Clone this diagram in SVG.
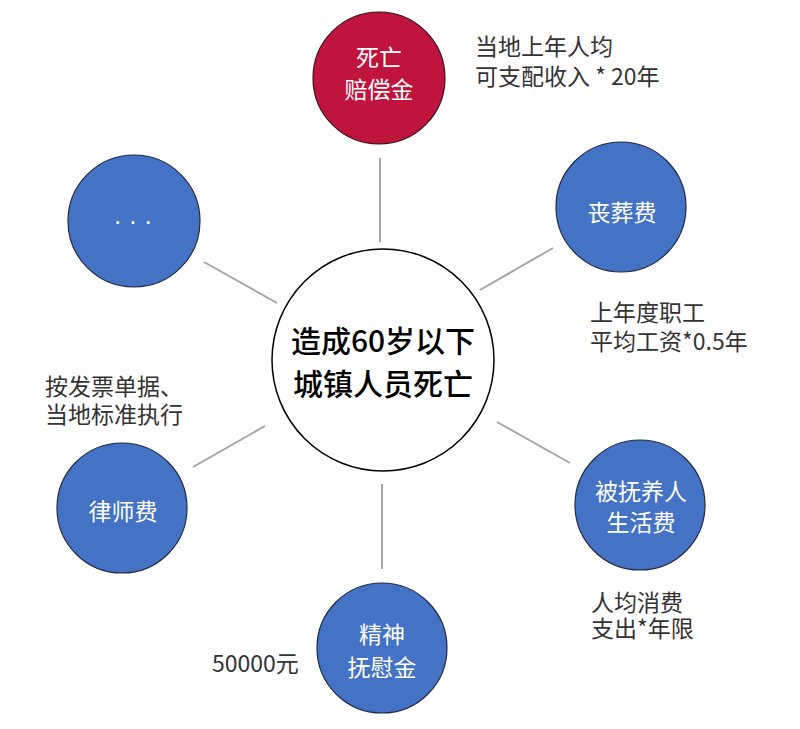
<svg xmlns="http://www.w3.org/2000/svg" width="800" height="729" viewBox="0 0 800 729">
<style>
.conn line{stroke:#a6a6a6;stroke-width:2}
.blue{fill:#4472C4;stroke:#1f2a44;stroke-width:1.2}
.red{fill:#C0143C;stroke:#3a1020;stroke-width:1.2}
.center{fill:#fff;stroke:#000;stroke-width:1.5}
.nt{font-family:"Noto Sans CJK SC","Noto Sans",sans-serif;font-size:23px;fill:#fff;text-anchor:middle}
.ct{font-family:"Noto Sans CJK SC","Noto Sans",sans-serif;font-size:30px;font-weight:500;fill:#000;text-anchor:middle}
.note{font-family:"Noto Sans CJK SC","Noto Sans",sans-serif;font-size:23px;fill:#333}
</style>
<rect width="800" height="729" fill="#fff"/>
<g id="connectors" class="conn">
<line x1="380" y1="158" x2="380" y2="242"/>
<line x1="480" y1="290" x2="553" y2="248"/>
<line x1="497" y1="422" x2="570" y2="463"/>
<line x1="382" y1="484" x2="382" y2="569"/>
<line x1="265" y1="426" x2="193" y2="467"/>
<line x1="204" y1="262" x2="277" y2="303"/>
</g>
<g id="center">
<circle class="center" cx="383" cy="360" r="111"/>
<text class="ct" x="383" y="352">造成60岁以下</text>
<text class="ct" x="383" y="395">城镇人员死亡</text>
</g>
<g id="death-comp">
<circle class="red" cx="379" cy="78" r="66"/>
<text class="nt" x="379" y="66">死亡</text>
<text class="nt" x="379" y="98">赔偿金</text>
<text class="note" x="475" y="55">当地上年人均</text>
<text class="note" x="475" y="85" xml:space="preserve">可支配收入 * 20年</text>
</g>
<g id="funeral">
<circle class="blue" cx="621" cy="207" r="65"/>
<text class="nt" x="622" y="221">丧葬费</text>
<text class="note" x="590" y="321">上年度职工</text>
<text class="note" x="590" y="350">平均工资*0.5年</text>
</g>
<g id="dependent">
<circle class="blue" cx="640" cy="505" r="65"/>
<text class="nt" x="641" y="500">被抚养人</text>
<text class="nt" x="641" y="531">生活费</text>
<text class="note" x="591" y="611">人均消费</text>
<text class="note" x="591" y="637">支出*年限</text>
</g>
<g id="mental">
<circle class="blue" cx="382" cy="648" r="65"/>
<text class="nt" x="382" y="643">精神</text>
<text class="nt" x="382" y="676">抚慰金</text>
<text class="note" x="212" y="672">50000元</text>
</g>
<g id="lawyer">
<circle class="blue" cx="122" cy="508" r="65"/>
<text class="nt" x="123" y="520">律师费</text>
<text class="note" x="45" y="395">按发票单据、</text>
<text class="note" x="45" y="423">当地标准执行</text>
</g>
<g id="more">
<circle class="blue" cx="134" cy="221" r="66"/>
<text x="133" y="230" font-family="Liberation Sans,sans-serif" font-size="25" fill="#fff" text-anchor="middle" xml:space="preserve">· · ·</text>
</g>
</svg>
